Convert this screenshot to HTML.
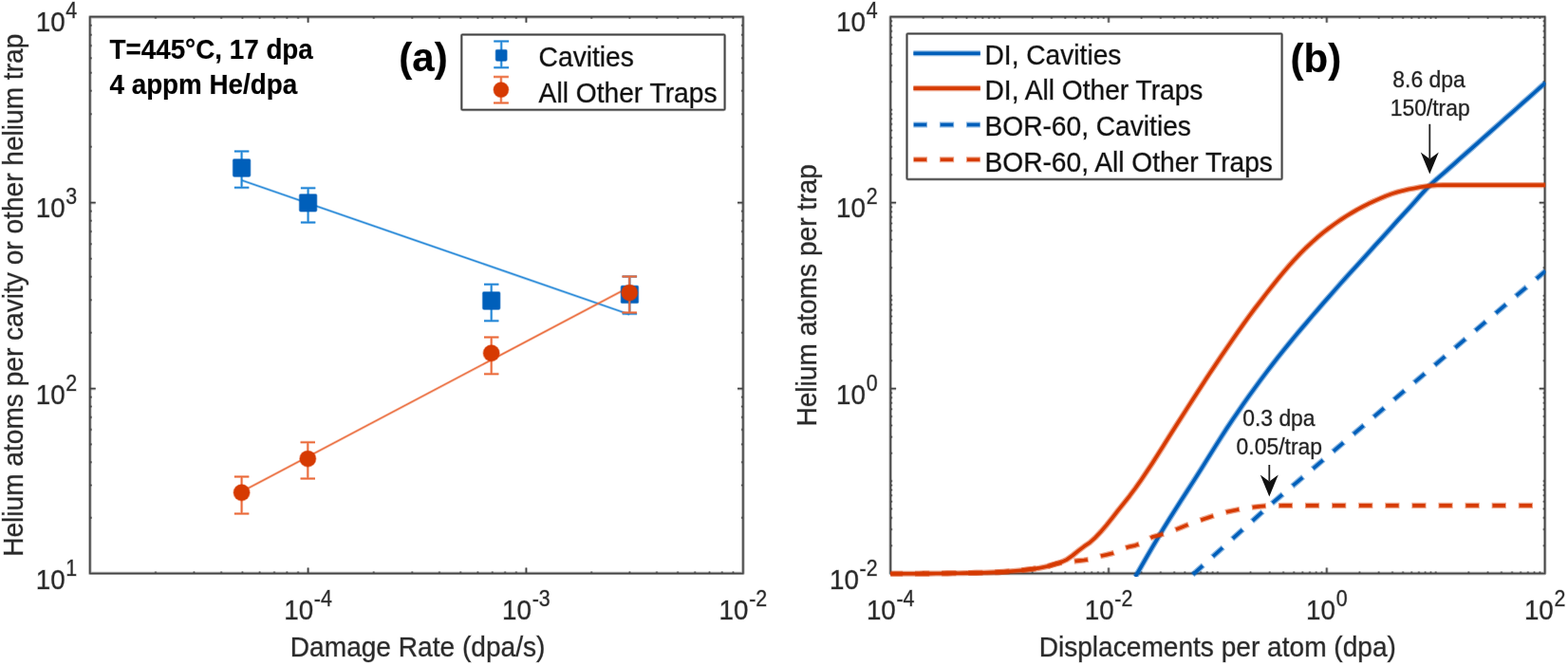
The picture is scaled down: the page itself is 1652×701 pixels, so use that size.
<!DOCTYPE html>
<html lang="en">
<head>
<meta charset="utf-8">
<title>Helium atoms per trap</title>
<style>
html,body{margin:0;padding:0;background:#fff;}
body{width:1652px;height:701px;overflow:hidden;}
svg{display:block;font-family:"Liberation Sans",Arial,Helvetica,sans-serif;}
</style>
</head>
<body>
<svg width="1652" height="701" viewBox="0 0 1652 701">
<rect width="1652" height="701" fill="#ffffff"/>
<path d="M324.60 604.45v-5.9M324.60 17.75v5.9M554.40 604.45v-5.9M554.40 17.75v5.9M94.80 409.70h5.9M782.90 409.70h-5.9M94.80 213.70h5.9M782.90 213.70h-5.9" stroke="#444444" stroke-width="3.00" stroke-opacity="0.45" fill="none"/><path d="M324.60 604.45v-5.9M324.60 17.75v5.9M554.40 604.45v-5.9M554.40 17.75v5.9M94.80 409.70h5.9M782.90 409.70h-5.9M94.80 213.70h5.9M782.90 213.70h-5.9" stroke="#444444" stroke-width="1.20" fill="none"/>
<path d="M163.98 604.45v-2.0M163.98 17.75v2.0M204.44 604.45v-2.0M204.44 17.75v2.0M233.15 604.45v-2.0M233.15 17.75v2.0M255.42 604.45v-2.0M255.42 17.75v2.0M273.62 604.45v-2.0M273.62 17.75v2.0M289.00 604.45v-2.0M289.00 17.75v2.0M302.33 604.45v-2.0M302.33 17.75v2.0M314.08 604.45v-2.0M314.08 17.75v2.0M393.78 604.45v-2.0M393.78 17.75v2.0M434.24 604.45v-2.0M434.24 17.75v2.0M462.95 604.45v-2.0M462.95 17.75v2.0M485.22 604.45v-2.0M485.22 17.75v2.0M503.42 604.45v-2.0M503.42 17.75v2.0M518.80 604.45v-2.0M518.80 17.75v2.0M532.13 604.45v-2.0M532.13 17.75v2.0M543.88 604.45v-2.0M543.88 17.75v2.0M623.19 604.45v-2.0M623.19 17.75v2.0M663.42 604.45v-2.0M663.42 17.75v2.0M691.97 604.45v-2.0M691.97 17.75v2.0M714.11 604.45v-2.0M714.11 17.75v2.0M732.21 604.45v-2.0M732.21 17.75v2.0M747.50 604.45v-2.0M747.50 17.75v2.0M760.76 604.45v-2.0M760.76 17.75v2.0M772.44 604.45v-2.0M772.44 17.75v2.0M94.80 545.82h2.0M782.90 545.82h-2.0M94.80 511.53h2.0M782.90 511.53h-2.0M94.80 487.20h2.0M782.90 487.20h-2.0M94.80 468.33h2.0M782.90 468.33h-2.0M94.80 452.91h2.0M782.90 452.91h-2.0M94.80 439.87h2.0M782.90 439.87h-2.0M94.80 428.57h2.0M782.90 428.57h-2.0M94.80 418.61h2.0M782.90 418.61h-2.0M94.80 350.70h2.0M782.90 350.70h-2.0M94.80 316.18h2.0M782.90 316.18h-2.0M94.80 291.70h2.0M782.90 291.70h-2.0M94.80 272.70h2.0M782.90 272.70h-2.0M94.80 257.18h2.0M782.90 257.18h-2.0M94.80 244.06h2.0M782.90 244.06h-2.0M94.80 232.69h2.0M782.90 232.69h-2.0M94.80 222.67h2.0M782.90 222.67h-2.0M94.80 154.71h2.0M782.90 154.71h-2.0M94.80 120.21h2.0M782.90 120.21h-2.0M94.80 95.73h2.0M782.90 95.73h-2.0M94.80 76.74h2.0M782.90 76.74h-2.0M94.80 61.22h2.0M782.90 61.22h-2.0M94.80 48.10h2.0M782.90 48.10h-2.0M94.80 36.74h2.0M782.90 36.74h-2.0M94.80 26.72h2.0M782.90 26.72h-2.0" stroke="#444444" stroke-width="2.60" stroke-opacity="0.45" fill="none"/><path d="M163.98 604.45v-2.0M163.98 17.75v2.0M204.44 604.45v-2.0M204.44 17.75v2.0M233.15 604.45v-2.0M233.15 17.75v2.0M255.42 604.45v-2.0M255.42 17.75v2.0M273.62 604.45v-2.0M273.62 17.75v2.0M289.00 604.45v-2.0M289.00 17.75v2.0M302.33 604.45v-2.0M302.33 17.75v2.0M314.08 604.45v-2.0M314.08 17.75v2.0M393.78 604.45v-2.0M393.78 17.75v2.0M434.24 604.45v-2.0M434.24 17.75v2.0M462.95 604.45v-2.0M462.95 17.75v2.0M485.22 604.45v-2.0M485.22 17.75v2.0M503.42 604.45v-2.0M503.42 17.75v2.0M518.80 604.45v-2.0M518.80 17.75v2.0M532.13 604.45v-2.0M532.13 17.75v2.0M543.88 604.45v-2.0M543.88 17.75v2.0M623.19 604.45v-2.0M623.19 17.75v2.0M663.42 604.45v-2.0M663.42 17.75v2.0M691.97 604.45v-2.0M691.97 17.75v2.0M714.11 604.45v-2.0M714.11 17.75v2.0M732.21 604.45v-2.0M732.21 17.75v2.0M747.50 604.45v-2.0M747.50 17.75v2.0M760.76 604.45v-2.0M760.76 17.75v2.0M772.44 604.45v-2.0M772.44 17.75v2.0M94.80 545.82h2.0M782.90 545.82h-2.0M94.80 511.53h2.0M782.90 511.53h-2.0M94.80 487.20h2.0M782.90 487.20h-2.0M94.80 468.33h2.0M782.90 468.33h-2.0M94.80 452.91h2.0M782.90 452.91h-2.0M94.80 439.87h2.0M782.90 439.87h-2.0M94.80 428.57h2.0M782.90 428.57h-2.0M94.80 418.61h2.0M782.90 418.61h-2.0M94.80 350.70h2.0M782.90 350.70h-2.0M94.80 316.18h2.0M782.90 316.18h-2.0M94.80 291.70h2.0M782.90 291.70h-2.0M94.80 272.70h2.0M782.90 272.70h-2.0M94.80 257.18h2.0M782.90 257.18h-2.0M94.80 244.06h2.0M782.90 244.06h-2.0M94.80 232.69h2.0M782.90 232.69h-2.0M94.80 222.67h2.0M782.90 222.67h-2.0M94.80 154.71h2.0M782.90 154.71h-2.0M94.80 120.21h2.0M782.90 120.21h-2.0M94.80 95.73h2.0M782.90 95.73h-2.0M94.80 76.74h2.0M782.90 76.74h-2.0M94.80 61.22h2.0M782.90 61.22h-2.0M94.80 48.10h2.0M782.90 48.10h-2.0M94.80 36.74h2.0M782.90 36.74h-2.0M94.80 26.72h2.0M782.90 26.72h-2.0" stroke="#444444" stroke-width="0.80" fill="none"/>
<path d="M94.80 17.75H782.90V604.45H94.80Z" stroke="#444444" stroke-width="3.30" stroke-opacity="0.45" fill="none" stroke-linejoin="round"/><path d="M94.80 17.75H782.90V604.45H94.80Z" stroke="#444444" stroke-width="1.50" fill="none" stroke-linejoin="round"/>
<text transform="translate(324.60 652.90) scale(1 1.09)" text-anchor="middle" font-size="27.8" fill="#2a2a2a" stroke="#2a2a2a" stroke-width="1.0" stroke-opacity="0.32">10<tspan dx="0.7" dy="-12.9" font-size="21.4">-4</tspan></text>
<text transform="translate(554.40 652.90) scale(1 1.09)" text-anchor="middle" font-size="27.8" fill="#2a2a2a" stroke="#2a2a2a" stroke-width="1.0" stroke-opacity="0.32">10<tspan dx="0.7" dy="-12.9" font-size="21.4">-3</tspan></text>
<text transform="translate(782.90 652.90) scale(1 1.09)" text-anchor="middle" font-size="27.8" fill="#2a2a2a" stroke="#2a2a2a" stroke-width="1.0" stroke-opacity="0.32">10<tspan dx="0.7" dy="-12.9" font-size="21.4">-2</tspan></text>
<text transform="translate(81.20 620.95) scale(1 1.09)" text-anchor="end" font-size="27.8" fill="#2a2a2a" stroke="#2a2a2a" stroke-width="1.0" stroke-opacity="0.32">10<tspan dx="0.7" dy="-12.9" font-size="21.4">1</tspan></text>
<text transform="translate(81.20 425.70) scale(1 1.09)" text-anchor="end" font-size="27.8" fill="#2a2a2a" stroke="#2a2a2a" stroke-width="1.0" stroke-opacity="0.32">10<tspan dx="0.7" dy="-12.9" font-size="21.4">2</tspan></text>
<text transform="translate(81.20 229.40) scale(1 1.09)" text-anchor="end" font-size="27.8" fill="#2a2a2a" stroke="#2a2a2a" stroke-width="1.0" stroke-opacity="0.32">10<tspan dx="0.7" dy="-12.9" font-size="21.4">3</tspan></text>
<text transform="translate(81.20 33.35) scale(1 1.09)" text-anchor="end" font-size="27.8" fill="#2a2a2a" stroke="#2a2a2a" stroke-width="1.0" stroke-opacity="0.32">10<tspan dx="0.7" dy="-12.9" font-size="21.4">4</tspan></text>
<path d="M254.6 190.0L663.3 331.5" stroke="#1f84d6" stroke-width="2.70" stroke-opacity="0.45" fill="none"/><path d="M254.6 190.0L663.3 331.5" stroke="#1f84d6" stroke-width="1.20" fill="none"/>
<path d="M254.6 518.3L663.3 302.5" stroke="#ea6a3a" stroke-width="2.70" stroke-opacity="0.45" fill="none"/><path d="M254.6 518.3L663.3 302.5" stroke="#ea6a3a" stroke-width="1.20" fill="none"/>
<path d="M254.60 159.50V197.80M246.90 159.50h15.4M246.90 197.80h15.4" stroke="#1f84d6" stroke-width="3.00" stroke-opacity="0.45" fill="none"/><path d="M254.60 159.50V197.80M246.90 159.50h15.4M246.90 197.80h15.4" stroke="#1f84d6" stroke-width="1.50" fill="none"/>
<rect x="245.45" y="167.85" width="18.30" height="18.30" rx="1.4" fill="#005fba" stroke="#005fba" stroke-width="1.5" stroke-opacity="0.45"/>
<path d="M324.60 198.20V234.60M316.90 198.20h15.4M316.90 234.60h15.4" stroke="#1f84d6" stroke-width="3.00" stroke-opacity="0.45" fill="none"/><path d="M324.60 198.20V234.60M316.90 198.20h15.4M316.90 234.60h15.4" stroke="#1f84d6" stroke-width="1.50" fill="none"/>
<rect x="315.45" y="204.65" width="18.30" height="18.30" rx="1.4" fill="#005fba" stroke="#005fba" stroke-width="1.5" stroke-opacity="0.45"/>
<path d="M517.70 299.70V338.30M510.00 299.70h15.4M510.00 338.30h15.4" stroke="#1f84d6" stroke-width="3.00" stroke-opacity="0.45" fill="none"/><path d="M517.70 299.70V338.30M510.00 299.70h15.4M510.00 338.30h15.4" stroke="#1f84d6" stroke-width="1.50" fill="none"/>
<rect x="508.55" y="307.85" width="18.30" height="18.30" rx="1.4" fill="#005fba" stroke="#005fba" stroke-width="1.5" stroke-opacity="0.45"/>
<path d="M663.40 291.50V330.70M655.70 291.50h15.4M655.70 330.70h15.4" stroke="#1f84d6" stroke-width="3.00" stroke-opacity="0.45" fill="none"/><path d="M663.40 291.50V330.70M655.70 291.50h15.4M655.70 330.70h15.4" stroke="#1f84d6" stroke-width="1.50" fill="none"/>
<rect x="654.25" y="301.25" width="18.30" height="18.30" rx="1.4" fill="#005fba" stroke="#005fba" stroke-width="1.5" stroke-opacity="0.45"/>
<path d="M254.60 502.60V541.50M246.90 502.60h15.4M246.90 541.50h15.4" stroke="#ea6a3a" stroke-width="3.00" stroke-opacity="0.45" fill="none"/><path d="M254.60 502.60V541.50M246.90 502.60h15.4M246.90 541.50h15.4" stroke="#ea6a3a" stroke-width="1.50" fill="none"/>
<circle cx="254.60" cy="519.20" r="8.45" fill="#d63a02" stroke="#d63a02" stroke-width="1.5" stroke-opacity="0.45"/>
<path d="M324.30 466.20V504.50M316.60 466.20h15.4M316.60 504.50h15.4" stroke="#ea6a3a" stroke-width="3.00" stroke-opacity="0.45" fill="none"/><path d="M324.30 466.20V504.50M316.60 466.20h15.4M316.60 504.50h15.4" stroke="#ea6a3a" stroke-width="1.50" fill="none"/>
<circle cx="324.30" cy="483.60" r="8.45" fill="#d63a02" stroke="#d63a02" stroke-width="1.5" stroke-opacity="0.45"/>
<path d="M517.70 355.40V394.20M510.00 355.40h15.4M510.00 394.20h15.4" stroke="#ea6a3a" stroke-width="3.00" stroke-opacity="0.45" fill="none"/><path d="M517.70 355.40V394.20M510.00 355.40h15.4M510.00 394.20h15.4" stroke="#ea6a3a" stroke-width="1.50" fill="none"/>
<circle cx="517.70" cy="372.30" r="8.45" fill="#d63a02" stroke="#d63a02" stroke-width="1.5" stroke-opacity="0.45"/>
<path d="M663.20 291.50V329.60M655.50 291.50h15.4M655.50 329.60h15.4" stroke="#ea6a3a" stroke-width="3.00" stroke-opacity="0.45" fill="none"/><path d="M663.20 291.50V329.60M655.50 291.50h15.4M655.50 329.60h15.4" stroke="#ea6a3a" stroke-width="1.50" fill="none"/>
<circle cx="663.20" cy="308.60" r="8.45" fill="#d63a02" stroke="#d63a02" stroke-width="1.5" stroke-opacity="0.45"/>
<rect x="486.3" y="36.4" width="277.3" height="79.3" rx="1.2" fill="#fff" stroke="#444444" stroke-width="3.0" stroke-opacity="0.45"/>
<rect x="486.3" y="36.4" width="277.3" height="79.3" rx="1.2" fill="none" stroke="#444444" stroke-width="1.5"/>
<path d="M528.20 43.60V71.20M520.30 43.60h15.8M520.30 71.20h15.8" stroke="#1f84d6" stroke-width="3.00" stroke-opacity="0.45" fill="none"/><path d="M528.20 43.60V71.20M520.30 43.60h15.8M520.30 71.20h15.8" stroke="#1f84d6" stroke-width="1.50" fill="none"/>
<rect x="522.30" y="52.40" width="11.80" height="11.80" rx="1.4" fill="#005fba" stroke="#005fba" stroke-width="1.5" stroke-opacity="0.45"/>
<path d="M527.90 80.90V108.50M520.00 80.90h15.8M520.00 108.50h15.8" stroke="#ea6a3a" stroke-width="3.00" stroke-opacity="0.45" fill="none"/><path d="M527.90 80.90V108.50M520.00 80.90h15.8M520.00 108.50h15.8" stroke="#ea6a3a" stroke-width="1.50" fill="none"/>
<circle cx="527.90" cy="94.60" r="7.85" fill="#d63a02" stroke="#d63a02" stroke-width="1.5" stroke-opacity="0.45"/>
<text transform="translate(567.60 69.60) scale(1 1.03)" font-size="28.2" fill="#111" stroke="#111" stroke-width="1.0" stroke-opacity="0.32">Cavities</text>
<text transform="translate(567.60 107.70) scale(1 1.03)" font-size="28.2" fill="#111" stroke="#111" stroke-width="1.0" stroke-opacity="0.32">All Other Traps</text>
<text transform="translate(115.50 61.50) scale(1 1.03)" font-weight="bold" font-size="27.8" fill="#000" stroke="#000" stroke-width="0.6" stroke-opacity="0.32">T=445°C, 17 dpa</text>
<text transform="translate(115.50 98.50) scale(1 1.03)" font-weight="bold" font-size="27.8" fill="#000" stroke="#000" stroke-width="0.6" stroke-opacity="0.32">4 appm He/dpa</text>
<text transform="translate(446.00 75.20) scale(1 1.0)" text-anchor="middle" font-weight="bold" font-size="42" fill="#000" stroke="#000" stroke-width="0.6" stroke-opacity="0.32">(a)</text>
<text transform="translate(440.10 691.60) scale(1 1.03)" text-anchor="middle" font-size="28.1" fill="#2a2a2a" stroke="#2a2a2a" stroke-width="1.0" stroke-opacity="0.32">Damage Rate (dpa/s)</text>
<text transform="translate(24.40 311.30) rotate(-90) scale(1 1.03)" text-anchor="middle" font-size="28.1" fill="#2a2a2a" stroke="#2a2a2a" stroke-width="1.0" stroke-opacity="0.32">Helium atoms per cavity or other helium trap</text>
<path d="M1168.02 604.50v-5.9M1168.02 17.75v5.9M1397.83 604.50v-5.9M1397.83 17.75v5.9M938.20 409.70h5.9M1627.65 409.70h-5.9M938.20 213.70h5.9M1627.65 213.70h-5.9" stroke="#444444" stroke-width="3.00" stroke-opacity="0.45" fill="none"/><path d="M1168.02 604.50v-5.9M1168.02 17.75v5.9M1397.83 604.50v-5.9M1397.83 17.75v5.9M938.20 409.70h5.9M1627.65 409.70h-5.9M938.20 213.70h5.9M1627.65 213.70h-5.9" stroke="#444444" stroke-width="1.20" fill="none"/>
<path d="M972.79 604.50v-2.0M972.79 17.75v2.0M993.03 604.50v-2.0M993.03 17.75v2.0M1007.38 604.50v-2.0M1007.38 17.75v2.0M1018.52 604.50v-2.0M1018.52 17.75v2.0M1027.62 604.50v-2.0M1027.62 17.75v2.0M1035.31 604.50v-2.0M1035.31 17.75v2.0M1041.97 604.50v-2.0M1041.97 17.75v2.0M1047.85 604.50v-2.0M1047.85 17.75v2.0M1053.11 604.50v-2.0M1053.11 17.75v2.0M1087.70 604.50v-2.0M1087.70 17.75v2.0M1107.93 604.50v-2.0M1107.93 17.75v2.0M1122.29 604.50v-2.0M1122.29 17.75v2.0M1133.43 604.50v-2.0M1133.43 17.75v2.0M1142.52 604.50v-2.0M1142.52 17.75v2.0M1150.22 604.50v-2.0M1150.22 17.75v2.0M1156.88 604.50v-2.0M1156.88 17.75v2.0M1162.76 604.50v-2.0M1162.76 17.75v2.0M1202.61 604.50v-2.0M1202.61 17.75v2.0M1222.84 604.50v-2.0M1222.84 17.75v2.0M1237.20 604.50v-2.0M1237.20 17.75v2.0M1248.33 604.50v-2.0M1248.33 17.75v2.0M1257.43 604.50v-2.0M1257.43 17.75v2.0M1265.13 604.50v-2.0M1265.13 17.75v2.0M1271.79 604.50v-2.0M1271.79 17.75v2.0M1277.67 604.50v-2.0M1277.67 17.75v2.0M1282.93 604.50v-2.0M1282.93 17.75v2.0M1317.52 604.50v-2.0M1317.52 17.75v2.0M1337.75 604.50v-2.0M1337.75 17.75v2.0M1352.11 604.50v-2.0M1352.11 17.75v2.0M1363.24 604.50v-2.0M1363.24 17.75v2.0M1372.34 604.50v-2.0M1372.34 17.75v2.0M1380.03 604.50v-2.0M1380.03 17.75v2.0M1386.70 604.50v-2.0M1386.70 17.75v2.0M1392.58 604.50v-2.0M1392.58 17.75v2.0M1432.42 604.50v-2.0M1432.42 17.75v2.0M1452.66 604.50v-2.0M1452.66 17.75v2.0M1467.02 604.50v-2.0M1467.02 17.75v2.0M1478.15 604.50v-2.0M1478.15 17.75v2.0M1487.25 604.50v-2.0M1487.25 17.75v2.0M1494.94 604.50v-2.0M1494.94 17.75v2.0M1501.61 604.50v-2.0M1501.61 17.75v2.0M1507.48 604.50v-2.0M1507.48 17.75v2.0M1512.74 604.50v-2.0M1512.74 17.75v2.0M1547.33 604.50v-2.0M1547.33 17.75v2.0M1567.57 604.50v-2.0M1567.57 17.75v2.0M1581.92 604.50v-2.0M1581.92 17.75v2.0M1593.06 604.50v-2.0M1593.06 17.75v2.0M1602.16 604.50v-2.0M1602.16 17.75v2.0M1609.85 604.50v-2.0M1609.85 17.75v2.0M1616.51 604.50v-2.0M1616.51 17.75v2.0M1622.39 604.50v-2.0M1622.39 17.75v2.0M938.20 575.18h2.0M1627.65 575.18h-2.0M938.20 558.03h2.0M1627.65 558.03h-2.0M938.20 545.86h2.0M1627.65 545.86h-2.0M938.20 536.42h2.0M1627.65 536.42h-2.0M938.20 528.71h2.0M1627.65 528.71h-2.0M938.20 522.19h2.0M1627.65 522.19h-2.0M938.20 516.54h2.0M1627.65 516.54h-2.0M938.20 511.56h2.0M1627.65 511.56h-2.0M938.20 507.10h2.0M1627.65 507.10h-2.0M938.20 477.78h2.0M1627.65 477.78h-2.0M938.20 460.63h2.0M1627.65 460.63h-2.0M938.20 448.46h2.0M1627.65 448.46h-2.0M938.20 439.02h2.0M1627.65 439.02h-2.0M938.20 431.31h2.0M1627.65 431.31h-2.0M938.20 424.79h2.0M1627.65 424.79h-2.0M938.20 419.14h2.0M1627.65 419.14h-2.0M938.20 414.16h2.0M1627.65 414.16h-2.0M938.20 380.20h2.0M1627.65 380.20h-2.0M938.20 362.94h2.0M1627.65 362.94h-2.0M938.20 350.70h2.0M1627.65 350.70h-2.0M938.20 341.20h2.0M1627.65 341.20h-2.0M938.20 333.44h2.0M1627.65 333.44h-2.0M938.20 326.88h2.0M1627.65 326.88h-2.0M938.20 321.20h2.0M1627.65 321.20h-2.0M938.20 316.18h2.0M1627.65 316.18h-2.0M938.20 311.70h2.0M1627.65 311.70h-2.0M938.20 282.20h2.0M1627.65 282.20h-2.0M938.20 264.94h2.0M1627.65 264.94h-2.0M938.20 252.70h2.0M1627.65 252.70h-2.0M938.20 243.20h2.0M1627.65 243.20h-2.0M938.20 235.44h2.0M1627.65 235.44h-2.0M938.20 228.88h2.0M1627.65 228.88h-2.0M938.20 223.20h2.0M1627.65 223.20h-2.0M938.20 218.18h2.0M1627.65 218.18h-2.0M938.20 184.20h2.0M1627.65 184.20h-2.0M938.20 166.94h2.0M1627.65 166.94h-2.0M938.20 154.70h2.0M1627.65 154.70h-2.0M938.20 145.20h2.0M1627.65 145.20h-2.0M938.20 137.44h2.0M1627.65 137.44h-2.0M938.20 130.88h2.0M1627.65 130.88h-2.0M938.20 125.20h2.0M1627.65 125.20h-2.0M938.20 120.18h2.0M1627.65 120.18h-2.0M938.20 115.70h2.0M1627.65 115.70h-2.0M938.20 86.21h2.0M1627.65 86.21h-2.0M938.20 68.97h2.0M1627.65 68.97h-2.0M938.20 56.73h2.0M1627.65 56.73h-2.0M938.20 47.24h2.0M1627.65 47.24h-2.0M938.20 39.48h2.0M1627.65 39.48h-2.0M938.20 32.92h2.0M1627.65 32.92h-2.0M938.20 27.24h2.0M1627.65 27.24h-2.0M938.20 22.23h2.0M1627.65 22.23h-2.0" stroke="#444444" stroke-width="2.60" stroke-opacity="0.45" fill="none"/><path d="M972.79 604.50v-2.0M972.79 17.75v2.0M993.03 604.50v-2.0M993.03 17.75v2.0M1007.38 604.50v-2.0M1007.38 17.75v2.0M1018.52 604.50v-2.0M1018.52 17.75v2.0M1027.62 604.50v-2.0M1027.62 17.75v2.0M1035.31 604.50v-2.0M1035.31 17.75v2.0M1041.97 604.50v-2.0M1041.97 17.75v2.0M1047.85 604.50v-2.0M1047.85 17.75v2.0M1053.11 604.50v-2.0M1053.11 17.75v2.0M1087.70 604.50v-2.0M1087.70 17.75v2.0M1107.93 604.50v-2.0M1107.93 17.75v2.0M1122.29 604.50v-2.0M1122.29 17.75v2.0M1133.43 604.50v-2.0M1133.43 17.75v2.0M1142.52 604.50v-2.0M1142.52 17.75v2.0M1150.22 604.50v-2.0M1150.22 17.75v2.0M1156.88 604.50v-2.0M1156.88 17.75v2.0M1162.76 604.50v-2.0M1162.76 17.75v2.0M1202.61 604.50v-2.0M1202.61 17.75v2.0M1222.84 604.50v-2.0M1222.84 17.75v2.0M1237.20 604.50v-2.0M1237.20 17.75v2.0M1248.33 604.50v-2.0M1248.33 17.75v2.0M1257.43 604.50v-2.0M1257.43 17.75v2.0M1265.13 604.50v-2.0M1265.13 17.75v2.0M1271.79 604.50v-2.0M1271.79 17.75v2.0M1277.67 604.50v-2.0M1277.67 17.75v2.0M1282.93 604.50v-2.0M1282.93 17.75v2.0M1317.52 604.50v-2.0M1317.52 17.75v2.0M1337.75 604.50v-2.0M1337.75 17.75v2.0M1352.11 604.50v-2.0M1352.11 17.75v2.0M1363.24 604.50v-2.0M1363.24 17.75v2.0M1372.34 604.50v-2.0M1372.34 17.75v2.0M1380.03 604.50v-2.0M1380.03 17.75v2.0M1386.70 604.50v-2.0M1386.70 17.75v2.0M1392.58 604.50v-2.0M1392.58 17.75v2.0M1432.42 604.50v-2.0M1432.42 17.75v2.0M1452.66 604.50v-2.0M1452.66 17.75v2.0M1467.02 604.50v-2.0M1467.02 17.75v2.0M1478.15 604.50v-2.0M1478.15 17.75v2.0M1487.25 604.50v-2.0M1487.25 17.75v2.0M1494.94 604.50v-2.0M1494.94 17.75v2.0M1501.61 604.50v-2.0M1501.61 17.75v2.0M1507.48 604.50v-2.0M1507.48 17.75v2.0M1512.74 604.50v-2.0M1512.74 17.75v2.0M1547.33 604.50v-2.0M1547.33 17.75v2.0M1567.57 604.50v-2.0M1567.57 17.75v2.0M1581.92 604.50v-2.0M1581.92 17.75v2.0M1593.06 604.50v-2.0M1593.06 17.75v2.0M1602.16 604.50v-2.0M1602.16 17.75v2.0M1609.85 604.50v-2.0M1609.85 17.75v2.0M1616.51 604.50v-2.0M1616.51 17.75v2.0M1622.39 604.50v-2.0M1622.39 17.75v2.0M938.20 575.18h2.0M1627.65 575.18h-2.0M938.20 558.03h2.0M1627.65 558.03h-2.0M938.20 545.86h2.0M1627.65 545.86h-2.0M938.20 536.42h2.0M1627.65 536.42h-2.0M938.20 528.71h2.0M1627.65 528.71h-2.0M938.20 522.19h2.0M1627.65 522.19h-2.0M938.20 516.54h2.0M1627.65 516.54h-2.0M938.20 511.56h2.0M1627.65 511.56h-2.0M938.20 507.10h2.0M1627.65 507.10h-2.0M938.20 477.78h2.0M1627.65 477.78h-2.0M938.20 460.63h2.0M1627.65 460.63h-2.0M938.20 448.46h2.0M1627.65 448.46h-2.0M938.20 439.02h2.0M1627.65 439.02h-2.0M938.20 431.31h2.0M1627.65 431.31h-2.0M938.20 424.79h2.0M1627.65 424.79h-2.0M938.20 419.14h2.0M1627.65 419.14h-2.0M938.20 414.16h2.0M1627.65 414.16h-2.0M938.20 380.20h2.0M1627.65 380.20h-2.0M938.20 362.94h2.0M1627.65 362.94h-2.0M938.20 350.70h2.0M1627.65 350.70h-2.0M938.20 341.20h2.0M1627.65 341.20h-2.0M938.20 333.44h2.0M1627.65 333.44h-2.0M938.20 326.88h2.0M1627.65 326.88h-2.0M938.20 321.20h2.0M1627.65 321.20h-2.0M938.20 316.18h2.0M1627.65 316.18h-2.0M938.20 311.70h2.0M1627.65 311.70h-2.0M938.20 282.20h2.0M1627.65 282.20h-2.0M938.20 264.94h2.0M1627.65 264.94h-2.0M938.20 252.70h2.0M1627.65 252.70h-2.0M938.20 243.20h2.0M1627.65 243.20h-2.0M938.20 235.44h2.0M1627.65 235.44h-2.0M938.20 228.88h2.0M1627.65 228.88h-2.0M938.20 223.20h2.0M1627.65 223.20h-2.0M938.20 218.18h2.0M1627.65 218.18h-2.0M938.20 184.20h2.0M1627.65 184.20h-2.0M938.20 166.94h2.0M1627.65 166.94h-2.0M938.20 154.70h2.0M1627.65 154.70h-2.0M938.20 145.20h2.0M1627.65 145.20h-2.0M938.20 137.44h2.0M1627.65 137.44h-2.0M938.20 130.88h2.0M1627.65 130.88h-2.0M938.20 125.20h2.0M1627.65 125.20h-2.0M938.20 120.18h2.0M1627.65 120.18h-2.0M938.20 115.70h2.0M1627.65 115.70h-2.0M938.20 86.21h2.0M1627.65 86.21h-2.0M938.20 68.97h2.0M1627.65 68.97h-2.0M938.20 56.73h2.0M1627.65 56.73h-2.0M938.20 47.24h2.0M1627.65 47.24h-2.0M938.20 39.48h2.0M1627.65 39.48h-2.0M938.20 32.92h2.0M1627.65 32.92h-2.0M938.20 27.24h2.0M1627.65 27.24h-2.0M938.20 22.23h2.0M1627.65 22.23h-2.0" stroke="#444444" stroke-width="0.80" fill="none"/>
<path d="M938.20 17.75H1627.65V604.50H938.20Z" stroke="#444444" stroke-width="3.30" stroke-opacity="0.45" fill="none" stroke-linejoin="round"/><path d="M938.20 17.75H1627.65V604.50H938.20Z" stroke="#444444" stroke-width="1.50" fill="none" stroke-linejoin="round"/>
<text transform="translate(938.20 652.90) scale(1 1.09)" text-anchor="middle" font-size="27.8" fill="#2a2a2a" stroke="#2a2a2a" stroke-width="1.0" stroke-opacity="0.32">10<tspan dx="0.7" dy="-12.9" font-size="21.4">-4</tspan></text>
<text transform="translate(1168.02 652.90) scale(1 1.09)" text-anchor="middle" font-size="27.8" fill="#2a2a2a" stroke="#2a2a2a" stroke-width="1.0" stroke-opacity="0.32">10<tspan dx="0.7" dy="-12.9" font-size="21.4">-2</tspan></text>
<text transform="translate(1397.83 652.90) scale(1 1.09)" text-anchor="middle" font-size="27.8" fill="#2a2a2a" stroke="#2a2a2a" stroke-width="1.0" stroke-opacity="0.32">10<tspan dx="0.7" dy="-12.9" font-size="21.4">0</tspan></text>
<text transform="translate(1627.65 652.90) scale(1 1.09)" text-anchor="middle" font-size="27.8" fill="#2a2a2a" stroke="#2a2a2a" stroke-width="1.0" stroke-opacity="0.32">10<tspan dx="0.7" dy="-12.9" font-size="21.4">2</tspan></text>
<text transform="translate(924.60 621.00) scale(1 1.09)" text-anchor="end" font-size="27.8" fill="#2a2a2a" stroke="#2a2a2a" stroke-width="1.0" stroke-opacity="0.32">10<tspan dx="0.7" dy="-12.9" font-size="21.4">-2</tspan></text>
<text transform="translate(924.60 425.70) scale(1 1.09)" text-anchor="end" font-size="27.8" fill="#2a2a2a" stroke="#2a2a2a" stroke-width="1.0" stroke-opacity="0.32">10<tspan dx="0.7" dy="-12.9" font-size="21.4">0</tspan></text>
<text transform="translate(924.60 229.40) scale(1 1.09)" text-anchor="end" font-size="27.8" fill="#2a2a2a" stroke="#2a2a2a" stroke-width="1.0" stroke-opacity="0.32">10<tspan dx="0.7" dy="-12.9" font-size="21.4">2</tspan></text>
<text transform="translate(924.60 33.35) scale(1 1.09)" text-anchor="end" font-size="27.8" fill="#2a2a2a" stroke="#2a2a2a" stroke-width="1.0" stroke-opacity="0.32">10<tspan dx="0.7" dy="-12.9" font-size="21.4">4</tspan></text>
<clipPath id="cb"><rect x="938.2" y="17.75" width="690.25" height="590.25"/></clipPath>
<g clip-path="url(#cb)" fill="none" stroke-linejoin="round">
<path d="M1196.2 608.0L1202.2 597.5L1208.2 587.0L1214.2 576.7L1220.2 566.5L1226.2 556.5L1232.2 546.8L1238.2 537.3L1244.2 527.8L1250.2 518.5L1256.2 509.1L1262.2 499.7L1268.2 490.1L1274.2 480.5L1280.2 470.9L1286.2 461.4L1292.2 452.0L1298.2 443.0L1304.2 434.2L1310.2 425.5L1316.2 417.0L1322.2 408.7L1328.2 400.5L1334.2 392.5L1340.2 384.6L1346.2 376.9L1352.2 369.4L1358.2 362.0L1364.2 354.7L1370.2 347.5L1376.2 340.5L1382.2 333.4L1388.2 326.5L1394.2 319.5L1400.2 312.7L1406.2 305.9L1412.2 299.1L1418.2 292.4L1424.2 285.8L1430.2 279.2L1436.2 272.6L1442.2 266.0L1448.2 259.3L1454.2 252.7L1460.2 246.1L1466.2 239.5L1472.2 232.8L1478.2 226.2L1484.2 219.7L1490.2 213.1L1496.2 206.3L1502.2 199.7L1508.2 193.7L1514.2 188.3L1520.2 183.2L1526.2 177.9L1532.2 172.6L1538.2 167.2L1544.2 161.9L1550.2 156.6L1556.2 151.3L1562.2 145.9L1568.2 140.6L1574.2 135.3L1580.2 130.0L1586.2 124.6L1592.2 119.3L1598.2 114.0L1604.2 108.6L1610.2 103.3L1616.2 98.0L1622.2 92.6L1628.2 87.3L1628.4 87.1" stroke="#005fba" stroke-width="6.10" stroke-opacity="0.45" fill="none"/><path d="M1196.2 608.0L1202.2 597.5L1208.2 587.0L1214.2 576.7L1220.2 566.5L1226.2 556.5L1232.2 546.8L1238.2 537.3L1244.2 527.8L1250.2 518.5L1256.2 509.1L1262.2 499.7L1268.2 490.1L1274.2 480.5L1280.2 470.9L1286.2 461.4L1292.2 452.0L1298.2 443.0L1304.2 434.2L1310.2 425.5L1316.2 417.0L1322.2 408.7L1328.2 400.5L1334.2 392.5L1340.2 384.6L1346.2 376.9L1352.2 369.4L1358.2 362.0L1364.2 354.7L1370.2 347.5L1376.2 340.5L1382.2 333.4L1388.2 326.5L1394.2 319.5L1400.2 312.7L1406.2 305.9L1412.2 299.1L1418.2 292.4L1424.2 285.8L1430.2 279.2L1436.2 272.6L1442.2 266.0L1448.2 259.3L1454.2 252.7L1460.2 246.1L1466.2 239.5L1472.2 232.8L1478.2 226.2L1484.2 219.7L1490.2 213.1L1496.2 206.3L1502.2 199.7L1508.2 193.7L1514.2 188.3L1520.2 183.2L1526.2 177.9L1532.2 172.6L1538.2 167.2L1544.2 161.9L1550.2 156.6L1556.2 151.3L1562.2 145.9L1568.2 140.6L1574.2 135.3L1580.2 130.0L1586.2 124.6L1592.2 119.3L1598.2 114.0L1604.2 108.6L1610.2 103.3L1616.2 98.0L1622.2 92.6L1628.2 87.3L1628.4 87.1" stroke="#005fba" stroke-width="3.60" fill="none"/>
<path d="M938.1 604.8L944.1 604.8L950.1 604.8L956.1 604.8L962.1 604.7L968.1 604.7L974.1 604.6L980.1 604.6L986.1 604.5L992.1 604.5L998.1 604.4L1004.1 604.3L1010.1 604.2L1016.1 604.1L1022.1 604.0L1028.1 603.9L1034.1 603.8L1040.1 603.6L1046.1 603.4L1052.1 603.1L1058.1 602.7L1064.1 602.3L1070.1 601.8L1076.1 601.2L1082.1 600.5L1088.1 599.8L1094.1 598.9L1100.1 597.7L1106.1 596.4L1112.1 594.6L1118.1 592.6L1124.1 589.8L1130.1 585.5L1136.1 580.7L1142.1 576.1L1148.1 572.0L1154.1 566.6L1160.1 560.2L1166.1 553.2L1172.1 545.6L1178.1 537.8L1184.1 530.4L1190.1 522.8L1196.1 514.7L1202.1 506.2L1208.1 497.3L1214.1 488.2L1220.1 478.8L1226.1 469.3L1232.1 459.7L1238.1 450.2L1244.1 440.8L1250.1 431.4L1256.1 422.1L1262.1 412.7L1268.1 403.4L1274.1 394.2L1280.1 385.2L1286.1 376.3L1292.1 367.5L1298.1 358.7L1304.1 350.1L1310.1 341.6L1316.1 333.2L1322.1 325.1L1328.1 317.3L1334.1 309.5L1340.1 301.9L1346.1 294.4L1352.1 287.1L1358.1 280.1L1364.1 273.4L1370.1 267.1L1376.1 261.1L1382.1 255.5L1388.1 250.2L1394.1 245.2L1400.1 240.5L1406.1 236.1L1412.1 231.9L1418.1 228.0L1424.1 224.4L1430.1 220.9L1436.1 217.7L1442.1 214.6L1448.1 211.8L1454.1 209.2L1460.1 206.6L1466.1 204.4L1472.1 202.5L1478.1 200.9L1484.1 199.6L1490.1 198.4L1496.1 197.3L1502.1 196.4L1508.1 195.6L1514.1 195.2L1520.1 195.1L1526.1 195.1L1532.1 195.1L1538.1 195.1L1544.1 195.1L1550.1 195.1L1556.1 195.1L1562.1 195.1L1568.1 195.1L1574.1 195.1L1580.1 195.1L1586.1 195.1L1592.1 195.1L1598.1 195.1L1604.1 195.1L1610.1 195.1L1616.1 195.1L1622.1 195.1L1628.1 195.1L1628.4 195.1" stroke="#d63a02" stroke-width="6.10" stroke-opacity="0.45" fill="none"/><path d="M938.1 604.8L944.1 604.8L950.1 604.8L956.1 604.8L962.1 604.7L968.1 604.7L974.1 604.6L980.1 604.6L986.1 604.5L992.1 604.5L998.1 604.4L1004.1 604.3L1010.1 604.2L1016.1 604.1L1022.1 604.0L1028.1 603.9L1034.1 603.8L1040.1 603.6L1046.1 603.4L1052.1 603.1L1058.1 602.7L1064.1 602.3L1070.1 601.8L1076.1 601.2L1082.1 600.5L1088.1 599.8L1094.1 598.9L1100.1 597.7L1106.1 596.4L1112.1 594.6L1118.1 592.6L1124.1 589.8L1130.1 585.5L1136.1 580.7L1142.1 576.1L1148.1 572.0L1154.1 566.6L1160.1 560.2L1166.1 553.2L1172.1 545.6L1178.1 537.8L1184.1 530.4L1190.1 522.8L1196.1 514.7L1202.1 506.2L1208.1 497.3L1214.1 488.2L1220.1 478.8L1226.1 469.3L1232.1 459.7L1238.1 450.2L1244.1 440.8L1250.1 431.4L1256.1 422.1L1262.1 412.7L1268.1 403.4L1274.1 394.2L1280.1 385.2L1286.1 376.3L1292.1 367.5L1298.1 358.7L1304.1 350.1L1310.1 341.6L1316.1 333.2L1322.1 325.1L1328.1 317.3L1334.1 309.5L1340.1 301.9L1346.1 294.4L1352.1 287.1L1358.1 280.1L1364.1 273.4L1370.1 267.1L1376.1 261.1L1382.1 255.5L1388.1 250.2L1394.1 245.2L1400.1 240.5L1406.1 236.1L1412.1 231.9L1418.1 228.0L1424.1 224.4L1430.1 220.9L1436.1 217.7L1442.1 214.6L1448.1 211.8L1454.1 209.2L1460.1 206.6L1466.1 204.4L1472.1 202.5L1478.1 200.9L1484.1 199.6L1490.1 198.4L1496.1 197.3L1502.1 196.4L1508.1 195.6L1514.1 195.2L1520.1 195.1L1526.1 195.1L1532.1 195.1L1538.1 195.1L1544.1 195.1L1550.1 195.1L1556.1 195.1L1562.1 195.1L1568.1 195.1L1574.1 195.1L1580.1 195.1L1586.1 195.1L1592.1 195.1L1598.1 195.1L1604.1 195.1L1610.1 195.1L1616.1 195.1L1622.1 195.1L1628.1 195.1L1628.4 195.1" stroke="#d63a02" stroke-width="3.60" fill="none"/>
<path d="M1254.4 607.7L1258.2 604.3L1337.5 532.9L1628.4 285.5" stroke="#005fba" stroke-width="6.10" stroke-opacity="0.45" fill="none" stroke-dasharray="15.25 12.85" stroke-dashoffset="-2.70"/><path d="M1254.4 607.7L1258.2 604.3L1337.5 532.9L1628.4 285.5" stroke="#005fba" stroke-width="3.60" fill="none" stroke-dasharray="13.45 14.65" stroke-dashoffset="-3.60"/>
<path d="M938.1 604.8L944.1 604.8L950.1 604.8L956.1 604.8L962.1 604.7L968.1 604.7L974.1 604.6L980.1 604.6L986.1 604.5L992.1 604.5L998.1 604.4L1004.1 604.3L1010.1 604.2L1016.1 604.1L1022.1 604.0L1028.1 603.9L1034.1 603.8L1040.1 603.6L1046.1 603.4L1052.1 603.1L1058.1 602.7L1064.1 602.3L1070.1 601.8L1076.1 601.2L1082.1 600.5L1088.1 599.8L1094.1 598.9L1100.1 597.7L1106.1 596.2L1112.1 594.3L1118.1 593.1L1124.1 592.4L1130.1 591.8L1136.1 591.1L1142.1 590.5L1148.1 589.6L1154.1 587.9L1160.1 586.1L1166.1 584.7L1172.1 583.2L1178.1 580.9L1184.1 578.1L1190.1 576.2L1196.1 574.9L1202.1 572.9L1208.1 569.2L1214.1 566.1L1220.1 564.4L1226.1 562.8L1232.1 560.8L1238.1 558.5L1244.1 556.1L1250.1 553.7L1256.1 551.4L1262.1 549.3L1268.1 547.2L1274.1 545.2L1280.1 543.2L1286.1 541.3L1292.1 539.7L1298.1 538.4L1304.1 537.3L1310.1 536.2L1316.1 535.2L1322.1 534.4L1328.1 533.7L1334.1 533.3L1340.1 533.1L1346.1 533.0L1352.1 532.9L1358.1 532.9L1364.1 532.9L1370.1 532.9L1376.1 532.9L1382.1 532.9L1388.1 532.9L1394.1 532.9L1400.1 532.9L1406.1 532.9L1412.1 532.9L1418.1 532.9L1424.1 532.9L1430.1 532.9L1436.1 532.9L1442.1 532.9L1448.1 532.9L1454.1 532.9L1460.1 532.9L1466.1 532.9L1472.1 532.9L1478.1 532.9L1484.1 532.9L1490.1 532.9L1496.1 532.9L1502.1 532.9L1508.1 532.9L1514.1 532.9L1520.1 532.9L1526.1 532.9L1532.1 532.9L1538.1 532.9L1544.1 532.9L1550.1 532.9L1556.1 532.9L1562.1 532.9L1568.1 532.9L1574.1 532.9L1580.1 532.9L1586.1 532.9L1592.1 532.9L1598.1 532.9L1604.1 532.9L1610.1 532.9L1616.1 532.9L1622.1 532.9L1625.5 532.9" stroke="#d63a02" stroke-width="6.10" stroke-opacity="0.45" fill="none" stroke-dasharray="15.25 12.85" stroke-dashoffset="2.20"/><path d="M938.1 604.8L944.1 604.8L950.1 604.8L956.1 604.8L962.1 604.7L968.1 604.7L974.1 604.6L980.1 604.6L986.1 604.5L992.1 604.5L998.1 604.4L1004.1 604.3L1010.1 604.2L1016.1 604.1L1022.1 604.0L1028.1 603.9L1034.1 603.8L1040.1 603.6L1046.1 603.4L1052.1 603.1L1058.1 602.7L1064.1 602.3L1070.1 601.8L1076.1 601.2L1082.1 600.5L1088.1 599.8L1094.1 598.9L1100.1 597.7L1106.1 596.2L1112.1 594.3L1118.1 593.1L1124.1 592.4L1130.1 591.8L1136.1 591.1L1142.1 590.5L1148.1 589.6L1154.1 587.9L1160.1 586.1L1166.1 584.7L1172.1 583.2L1178.1 580.9L1184.1 578.1L1190.1 576.2L1196.1 574.9L1202.1 572.9L1208.1 569.2L1214.1 566.1L1220.1 564.4L1226.1 562.8L1232.1 560.8L1238.1 558.5L1244.1 556.1L1250.1 553.7L1256.1 551.4L1262.1 549.3L1268.1 547.2L1274.1 545.2L1280.1 543.2L1286.1 541.3L1292.1 539.7L1298.1 538.4L1304.1 537.3L1310.1 536.2L1316.1 535.2L1322.1 534.4L1328.1 533.7L1334.1 533.3L1340.1 533.1L1346.1 533.0L1352.1 532.9L1358.1 532.9L1364.1 532.9L1370.1 532.9L1376.1 532.9L1382.1 532.9L1388.1 532.9L1394.1 532.9L1400.1 532.9L1406.1 532.9L1412.1 532.9L1418.1 532.9L1424.1 532.9L1430.1 532.9L1436.1 532.9L1442.1 532.9L1448.1 532.9L1454.1 532.9L1460.1 532.9L1466.1 532.9L1472.1 532.9L1478.1 532.9L1484.1 532.9L1490.1 532.9L1496.1 532.9L1502.1 532.9L1508.1 532.9L1514.1 532.9L1520.1 532.9L1526.1 532.9L1532.1 532.9L1538.1 532.9L1544.1 532.9L1550.1 532.9L1556.1 532.9L1562.1 532.9L1568.1 532.9L1574.1 532.9L1580.1 532.9L1586.1 532.9L1592.1 532.9L1598.1 532.9L1604.1 532.9L1610.1 532.9L1616.1 532.9L1622.1 532.9L1625.5 532.9" stroke="#d63a02" stroke-width="3.60" fill="none" stroke-dasharray="13.45 14.65" stroke-dashoffset="1.30"/>
</g>
<rect x="955.5" y="35.4" width="395.1" height="153.6" rx="1.2" fill="#fff" stroke="#444444" stroke-width="3.0" stroke-opacity="0.45"/>
<rect x="955.5" y="35.4" width="395.1" height="153.6" rx="1.2" fill="none" stroke="#444444" stroke-width="1.5"/>
<path d="M962.4 56.2H1032.8" stroke="#005fba" stroke-width="6.10" stroke-opacity="0.45" fill="none"/><path d="M962.4 56.2H1032.8" stroke="#005fba" stroke-width="3.60" fill="none"/>
<text transform="translate(1037.50 67.50) scale(1 1.03)" font-size="28.15" fill="#111" stroke="#111" stroke-width="1.0" stroke-opacity="0.32">DI, Cavities</text>
<path d="M962.4 93.1H1032.8" stroke="#d63a02" stroke-width="6.10" stroke-opacity="0.45" fill="none"/><path d="M962.4 93.1H1032.8" stroke="#d63a02" stroke-width="3.60" fill="none"/>
<text transform="translate(1037.50 105.40) scale(1 1.03)" font-size="28.15" fill="#111" stroke="#111" stroke-width="1.0" stroke-opacity="0.32">DI, All Other Traps</text>
<path d="M962.4 131.5H1032.8" stroke="#005fba" stroke-width="6.10" stroke-opacity="0.45" fill="none" stroke-dasharray="15.25 12.85" stroke-dashoffset="0.60"/><path d="M962.4 131.5H1032.8" stroke="#005fba" stroke-width="3.60" fill="none" stroke-dasharray="13.45 14.65" stroke-dashoffset="-0.30"/>
<text transform="translate(1037.50 143.40) scale(1 1.03)" font-size="28.15" fill="#111" stroke="#111" stroke-width="1.0" stroke-opacity="0.32">BOR-60, Cavities</text>
<path d="M962.4 168.3H1032.8" stroke="#d63a02" stroke-width="6.10" stroke-opacity="0.45" fill="none" stroke-dasharray="15.25 12.85" stroke-dashoffset="0.60"/><path d="M962.4 168.3H1032.8" stroke="#d63a02" stroke-width="3.60" fill="none" stroke-dasharray="13.45 14.65" stroke-dashoffset="-0.30"/>
<text transform="translate(1037.50 181.30) scale(1 1.03)" font-size="28.15" fill="#111" stroke="#111" stroke-width="1.0" stroke-opacity="0.32">BOR-60, All Other Traps</text>
<text transform="translate(1386.30 76.00) scale(1 1.0)" text-anchor="middle" font-weight="bold" font-size="42" fill="#000" stroke="#000" stroke-width="0.6" stroke-opacity="0.32">(b)</text>
<text transform="translate(1505.50 91.50) scale(1 1.03)" text-anchor="middle" font-size="22.9" fill="#222" stroke="#222" stroke-width="1.0" stroke-opacity="0.32">8.6 dpa</text>
<text transform="translate(1506.70 121.50) scale(1 1.03)" text-anchor="middle" font-size="22.9" fill="#222" stroke="#222" stroke-width="1.0" stroke-opacity="0.32">150/trap</text>
<text transform="translate(1347.40 448.60) scale(1 1.03)" text-anchor="middle" font-size="22.9" fill="#222" stroke="#222" stroke-width="1.0" stroke-opacity="0.32">0.3 dpa</text>
<text transform="translate(1347.80 478.50) scale(1 1.03)" text-anchor="middle" font-size="22.9" fill="#222" stroke="#222" stroke-width="1.0" stroke-opacity="0.32">0.05/trap</text>
<path d="M1506.3 130.8V167.4" stroke="#222" stroke-width="1.8" fill="none"/><path d="M1506.3 183.4L1496.8 160.4L1506.3 167.4L1515.8 160.4Z" fill="#111"/>
<path d="M1337.3 490.0V507.4" stroke="#222" stroke-width="1.8" fill="none"/><path d="M1337.3 523.4L1327.8 500.4L1337.3 507.4L1346.8 500.4Z" fill="#111"/>
<text transform="translate(1282.80 691.60) scale(1 1.03)" text-anchor="middle" font-size="28.1" fill="#2a2a2a" stroke="#2a2a2a" stroke-width="1.0" stroke-opacity="0.32">Displacements per atom (dpa)</text>
<text transform="translate(860.10 311.40) rotate(-90) scale(1 1.03)" text-anchor="middle" font-size="28.1" fill="#2a2a2a" stroke="#2a2a2a" stroke-width="1.0" stroke-opacity="0.32">Helium atoms per trap</text>
</svg>
</body>
</html>
